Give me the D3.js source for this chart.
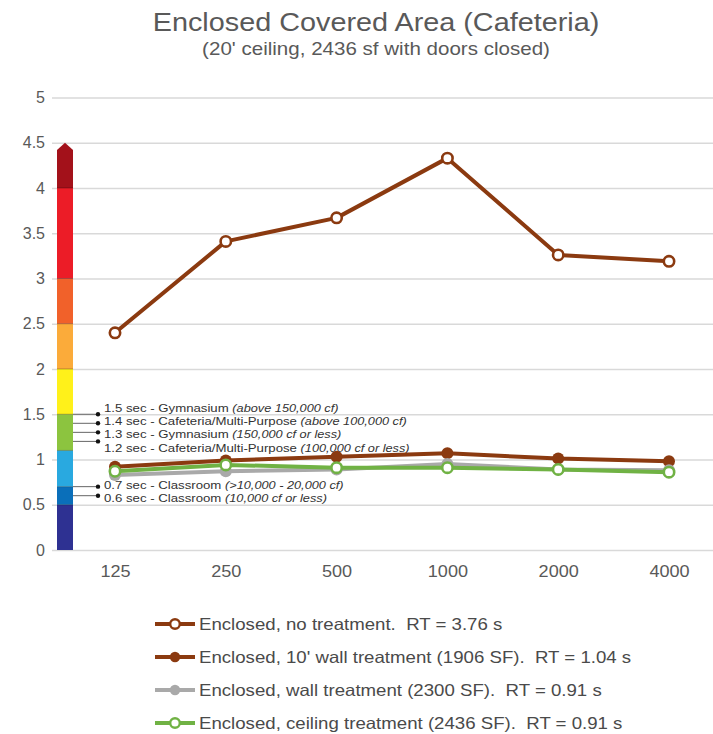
<!DOCTYPE html>
<html>
<head>
<meta charset="utf-8">
<script src="https://cdn.jsdelivr.net/npm/d3@7"></script>
<style>
  html, body { margin: 0; padding: 0; background: #fff; }
  svg { display: block; font-family: Arial, "Liberation Sans", sans-serif; }
  svg text { white-space: pre; }
</style>
</head>
<body>
<svg id="chart" width="713" height="734"></svg>
<script>
// Octave-band centre frequencies (Hz)
const frequencies = ["125", "250", "500", "1000", "2000", "4000"];

// Reverberation time (s) per band for each configuration
const noTreatment      = [2.40, 3.41, 3.67, 4.33, 3.26, 3.19];
const wallTreatment10  = [0.92, 0.99, 1.03, 1.07, 1.01, 0.98];
const wallTreatment    = [0.83, 0.87, 0.89, 0.95, 0.89, 0.88];
const ceilingTreatment = [0.87, 0.94, 0.91, 0.91, 0.89, 0.86];

const seriesNames = [
  "Enclosed, no treatment.  RT = 3.76 s",
  "Enclosed, 10' wall treatment (1906 SF).  RT = 1.04 s",
  "Enclosed, wall treatment (2300 SF).  RT = 0.91 s",
  "Enclosed, ceiling treatment (2436 SF).  RT = 0.91 s"
];

const yTicks = [0, 0.5, 1, 1.5, 2, 2.5, 3, 3.5, 4, 4.5, 5];

// Recommended reverberation-time bands on the colour scale
const bandStarts = [0, 0.5, 0.7, 1.1, 1.5, 2.0, 2.5, 3.0, 4.0];
const bandEnds   = [0.5, 0.7, 1.1, 1.5, 2.0, 2.5, 3.0, 4.0, 4.42];
const bandColors = ["#2e3192", "#0a6fba", "#29a9e0", "#8cc43f", "#fff11a", "#fbab3a", "#f1612a", "#ec1c27", "#a3111a"];

// Target reverberation times by room type
const targetValues = [1.5, 1.4, 1.3, 1.2, 0.7, 0.6];
const targetLabels = [
  "1.5 sec - Gymnasium ", "1.4 sec - Cafeteria/Multi-Purpose ",
  "1.3 sec - Gymnasium ", "1.2 sec - Cafeteria/Multi-Purpose ",
  "0.7 sec - Classroom ", "0.6 sec - Classroom "
];
const targetNotes = [
  "(above 150,000 cf)", "(above 100,000 cf)", "(150,000 cf or less)",
  "(100,000 cf or less)", "(>10,000 - 20,000 cf)", "(10,000 cf or less)"
];
const targetTextShift = [-6, -2, 2, 7, -2, 2];

// Text is drawn slightly widened horizontally
const SX = 1.13;
function widened(sel, x, y, sx) {
  return sel.attr("transform", `translate(${x},${y}) scale(${sx || SX},1)`);
}

const svg = d3.select("#chart");

const x = d3.scalePoint().domain(frequencies).range([115, 669]);
const y = d3.scaleLinear().domain([0, 5]).range([550, 97.5]);

// Title
widened(svg.append("text"), 376, 31).attr("text-anchor", "middle")
  .attr("font-size", 25.5).attr("fill", "#595959").text("Enclosed Covered Area (Cafeteria)");
widened(svg.append("text"), 376, 55).attr("text-anchor", "middle")
  .attr("font-size", 18.2).attr("fill", "#595959").text("(20' ceiling, 2436 sf with doors closed)");

// Horizontal gridlines
const yAxis = d3.axisLeft(y).tickValues(yTicks).tickSize(-(713 - 52)).tickPadding(8)
  .tickFormat(d3.format("~g"));
const gy = svg.append("g").attr("transform", "translate(52,0)").call(yAxis);
gy.select(".domain").remove();
gy.selectAll(".tick line").attr("stroke", "#d9d9d9").attr("stroke-width", 1.6);
gy.selectAll(".tick text").attr("font-size", 16).attr("fill", "#595959")
  .attr("font-family", "Arial, 'Liberation Sans', sans-serif").attr("x", -7);

// X axis labels
const xAxis = d3.axisBottom(x).tickSize(0).tickPadding(16);
const gx = svg.append("g").attr("transform", "translate(0,550)").call(xAxis);
gx.select(".domain").remove();
gx.selectAll(".tick text").attr("font-size", 16).attr("fill", "#595959")
  .attr("font-family", "Arial, 'Liberation Sans', sans-serif")
  .attr("transform", `scale(${SX},1)`);

// Colour scale bar
const barX = 57, barW = 16;
const bands = svg.append("g");
bandStarts.forEach((s, i) => {
  bands.append("rect").attr("x", barX).attr("width", barW)
    .attr("y", y(bandEnds[i])).attr("height", y(s) - y(bandEnds[i]))
    .attr("fill", bandColors[i]);
});
// arrow head on the top band
bands.append("path")
  .attr("d", `M${barX},${y(4.42)} L${barX + barW / 2},${y(4.5)} L${barX + barW},${y(4.42)} Z`)
  .attr("fill", bandColors[bandColors.length - 1]);
// thin separators between bands
bandStarts.slice(1).forEach(s => {
  bands.append("line").attr("x1", barX).attr("x2", barX + barW)
    .attr("y1", y(s)).attr("y2", y(s)).attr("stroke", "#000").attr("stroke-opacity", 0.35).attr("stroke-width", 0.8);
});

// Target leader lines and labels
const targets = svg.append("g");
targetValues.forEach((v, i) => {
  targets.append("line").attr("x1", barX + barW).attr("x2", 98)
    .attr("y1", y(v)).attr("y2", y(v)).attr("stroke", "#555").attr("stroke-width", 0.9);
  targets.append("circle").attr("cx", 98).attr("cy", y(v)).attr("r", 2.2).attr("fill", "#111");
  const t = widened(targets.append("text"), 104, y(v) + 4 + targetTextShift[i], 1.18)
    .attr("font-size", 11.2).attr("fill", "#333");
  t.append("tspan").text(targetLabels[i]);
  t.append("tspan").attr("font-style", "italic").attr("font-size", 10.8).text(targetNotes[i]);
});

// Data series
const series = [
  { name: seriesNames[0], values: noTreatment,      color: "#8b3a10", open: true },
  { name: seriesNames[1], values: wallTreatment10,  color: "#8b3a10", open: false },
  { name: seriesNames[2], values: wallTreatment,    color: "#a9a9a9", open: false },
  { name: seriesNames[3], values: ceilingTreatment, color: "#70b244", open: true }
];

const line = d3.line().x((d, i) => x(frequencies[i])).y(d => y(d));

series.forEach(s => {
  const g = svg.append("g");
  g.append("path").datum(s.values).attr("d", line).attr("fill", "none")
    .attr("stroke", s.color).attr("stroke-width", 4).attr("stroke-linejoin", "round");
  g.selectAll("circle").data(s.values).join("circle")
    .attr("cx", (d, i) => x(frequencies[i])).attr("cy", d => y(d))
    .attr("r", s.open ? 5.2 : 6)
    .attr("fill", s.open ? "#fff" : s.color)
    .attr("stroke", s.color).attr("stroke-width", s.open ? 2.6 : 0);
});

// Legend
const legend = svg.append("g");
series.forEach((s, i) => {
  const ly = 624 + i * 33;
  legend.append("line").attr("x1", 155).attr("x2", 195).attr("y1", ly).attr("y2", ly)
    .attr("stroke", s.color).attr("stroke-width", 4);
  legend.append("circle").attr("cx", 175).attr("cy", ly).attr("r", s.open ? 4.8 : 5.2)
    .attr("fill", s.open ? "#fff" : s.color).attr("stroke", s.color)
    .attr("stroke-width", s.open ? 2.4 : 0);
  widened(legend.append("text"), 199, ly + 6).attr("font-size", 16.5)
    .attr("fill", "#4a4a4a").text(s.name);
});
</script>
</body>
</html>
